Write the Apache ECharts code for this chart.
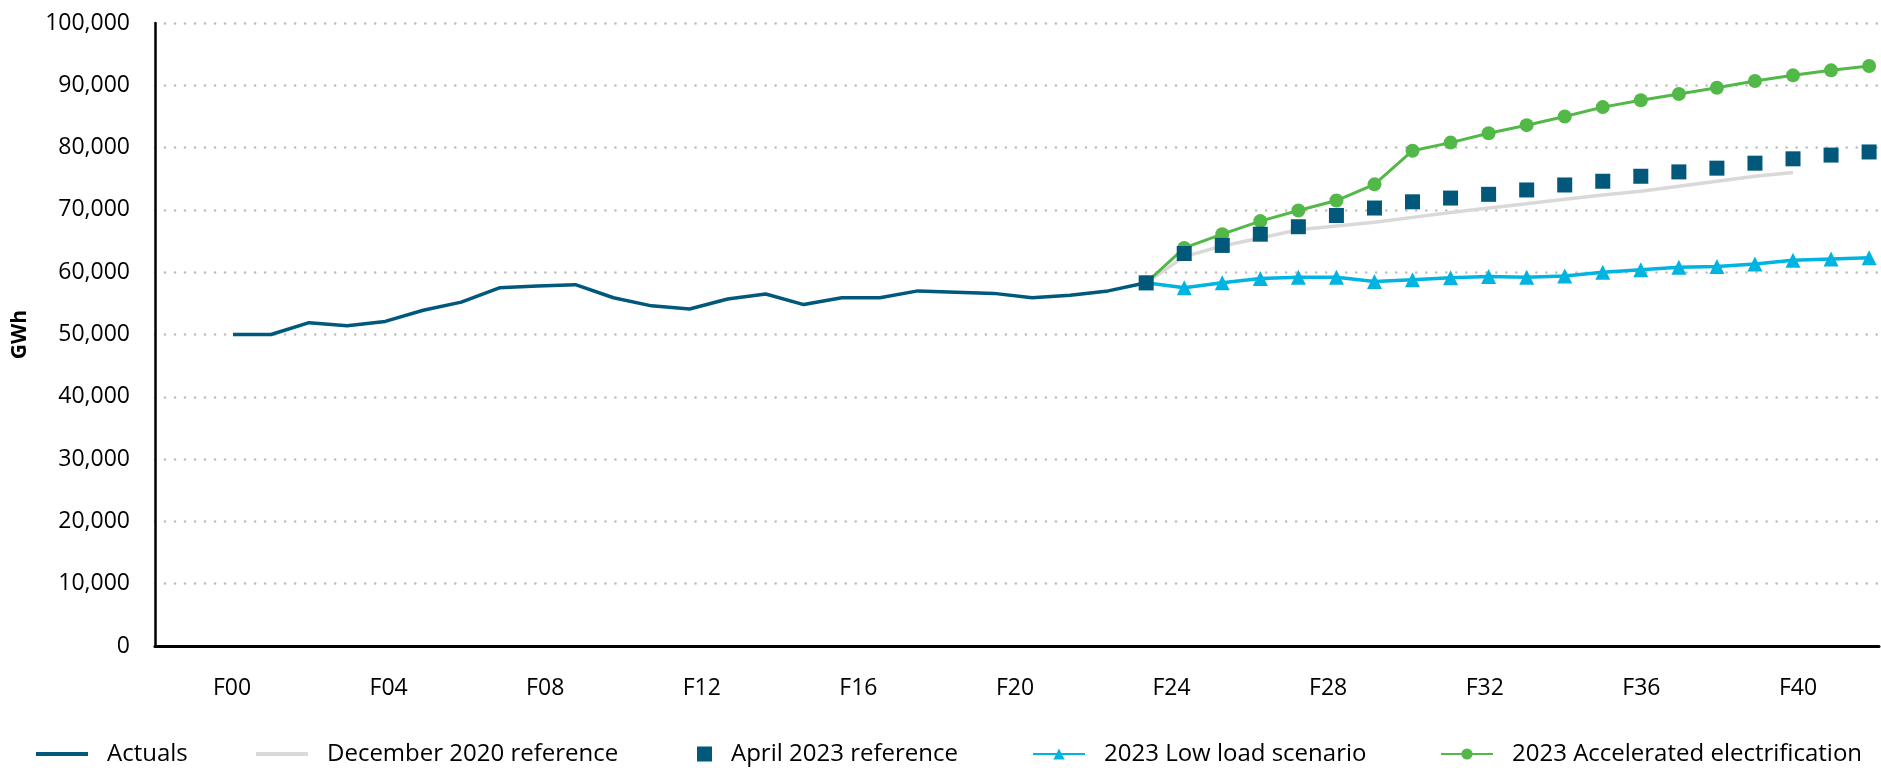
<!DOCTYPE html>
<html>
<head>
<meta charset="utf-8">
<script src="https://cdn.jsdelivr.net/npm/echarts@6/dist/echarts.min.js"></script>
<style>
html,body{margin:0;padding:0;background:#ffffff;}
#chart{width:1881px;height:768px;}
</style>
</head>
<body>
<div id="chart"></div>
<script>
// ---- data (point index along the time axis, GWh values) ----
const actualIdx = [0,1,2,3,4,5,6,7,8,9,10,11,12,13,14,15,16,17,18,19,20,21,22,23,24];
const actuals = [50000,50000,51900,51400,52100,53900,55200,57500,57800,58000,55900,54600,54100,55700,56500,54800,55900,55900,57000,56800,56600,55900,56300,57000,58300];

const forecastIdx = [24,25,26,27,28,29,30,31,32,33,34,35,36,37,38,39,40,41,42,43];
const april2023 = [58300,63000,64300,66100,67300,69100,70300,71300,71900,72500,73200,74000,74600,75400,76100,76700,77500,78200,78800,79300];
const lowLoad = [58300,57500,58300,59000,59200,59200,58500,58800,59100,59300,59200,59400,60000,60400,60800,60900,61300,61900,62100,62300];
const accelerated = [58300,63900,66100,68200,69900,71500,74100,79500,80800,82300,83600,85000,86500,87600,88600,89600,90700,91600,92400,93100];

const dec2020Idx = [24,25,26,27,28,29,30,31,32,33,34,35,36,37,38,39,40,41];
const dec2020 = [58300,62500,64200,65500,66800,67400,68000,68800,69600,70300,71000,71700,72400,73000,73800,74600,75400,76000];

const xTickValues = [0,4,8,12,16,20,24,28,32,36,40];
const xTickLabels = ['F00','F04','F08','F12','F16','F20','F24','F28','F32','F36','F40'];

const seriesNames = ['Actuals','December 2020 reference','April 2023 reference','2023 Low load scenario','2023 Accelerated electrification'];

// ---- helpers ----
const pairs = (xs, ys) => ys.map((v, i) => [xs[i], v]);
const FONT = '"Open Sans", "Noto Sans", sans-serif';

const chart = echarts.init(document.getElementById('chart'), null, {renderer: 'canvas'});

const legendBase = {
  top: 737,
  itemGap: 0,
  selectedMode: false,
  textStyle: {fontFamily: FONT, fontSize: 24, color: '#000', padding: [0, 0, 0, 14]}
};

const option = {
  animation: false,
  backgroundColor: '#ffffff',
  grid: {left: 155, right: 2, top: 23, bottom: 122, containLabel: false},
  legend: [
    Object.assign({}, legendBase, {left: 31, itemWidth: 52, itemHeight: 4, data: [{name: seriesNames[0], icon: 'rect'}]}),
    Object.assign({}, legendBase, {left: 251, itemWidth: 52, itemHeight: 4, data: [{name: seriesNames[1], icon: 'rect'}]}),
    Object.assign({}, legendBase, {left: 692, itemWidth: 15, itemHeight: 15, data: [{name: seriesNames[2], icon: 'rect'}]}),
    Object.assign({}, legendBase, {left: 1027, itemWidth: 52, itemHeight: 14, data: [seriesNames[3]]}),
    Object.assign({}, legendBase, {left: 1435, itemWidth: 52, itemHeight: 14, data: [seriesNames[4]]})
  ],
  xAxis: [
    {
      type: 'value',
      min: -2.05,
      max: 43.26,
      axisLine: {show: true, onZero: true, lineStyle: {color: '#000', width: 3}},
      axisTick: {show: false},
      axisLabel: {show: false},
      splitLine: {show: false}
    },
    {
      type: 'value',
      position: 'bottom',
      min: -1.967,
      max: 42.07,
      axisLine: {show: false},
      axisTick: {show: false},
      splitLine: {show: false},
      axisLabel: {
        show: true,
        customValues: xTickValues,
        margin: 31,
        fontFamily: FONT,
        fontSize: 23,
        color: '#000',
        formatter: function (v) {
          const i = xTickValues.indexOf(Math.round(v));
          return i >= 0 ? xTickLabels[i] : '';
        }
      }
    }
  ],
  yAxis: {
    type: 'value',
    min: 0,
    max: 100000,
    interval: 10000,
    name: 'GWh',
    nameLocation: 'middle',
    nameRotate: 90,
    nameGap: 124,
    nameTextStyle: {fontFamily: FONT, fontSize: 21, fontWeight: 'bold', color: '#000'},
    axisLine: {show: true, onZero: false, lineStyle: {color: '#000', width: 2.5}},
    axisTick: {show: false},
    axisLabel: {
      margin: 25,
      fontFamily: FONT,
      fontSize: 23,
      color: '#000',
      formatter: function (v) { return v.toLocaleString('en-US'); }
    },
    splitLine: {
      show: true,
      lineStyle: {color: '#bdbdbd', width: 2.6, type: [0.01, 10], cap: 'round'}
    }
  },
  series: [
    {
      name: seriesNames[1],
      type: 'line',
      xAxisIndex: 0,
      data: pairs(dec2020Idx, dec2020),
      symbol: 'none',
      color: '#d9d9d9',
      itemStyle: {color: '#d9d9d9'},
      lineStyle: {color: '#d9d9d9', width: 3.5},
      z: 1
    },
    {
      name: seriesNames[0],
      type: 'line',
      xAxisIndex: 0,
      data: pairs(actualIdx, actuals),
      symbol: 'none',
      color: '#00597c',
      itemStyle: {color: '#00597c'},
      lineStyle: {color: '#00597c', width: 3.5},
      z: 2
    },
    {
      name: seriesNames[4],
      type: 'line',
      xAxisIndex: 0,
      data: pairs(forecastIdx, accelerated),
      symbol: 'circle',
      symbolSize: 14,
      color: '#52b848',
      itemStyle: {color: '#52b848'},
      lineStyle: {color: '#52b848', width: 3},
      z: 3
    },
    {
      name: seriesNames[3],
      type: 'line',
      xAxisIndex: 0,
      data: pairs(forecastIdx, lowLoad),
      symbol: 'triangle',
      symbolSize: 15,
      color: '#00b4e1',
      itemStyle: {color: '#00b4e1'},
      lineStyle: {color: '#00b4e1', width: 3.5},
      z: 4
    },
    {
      name: seriesNames[2],
      type: 'line',
      xAxisIndex: 0,
      data: pairs(forecastIdx, april2023),
      symbol: 'rect',
      symbolSize: 15,
      color: '#02587b',
      itemStyle: {color: '#02587b'},
      lineStyle: {width: 0, opacity: 0},
      z: 5
    }
  ]
};

chart.setOption(option);
</script>
</body>
</html>
